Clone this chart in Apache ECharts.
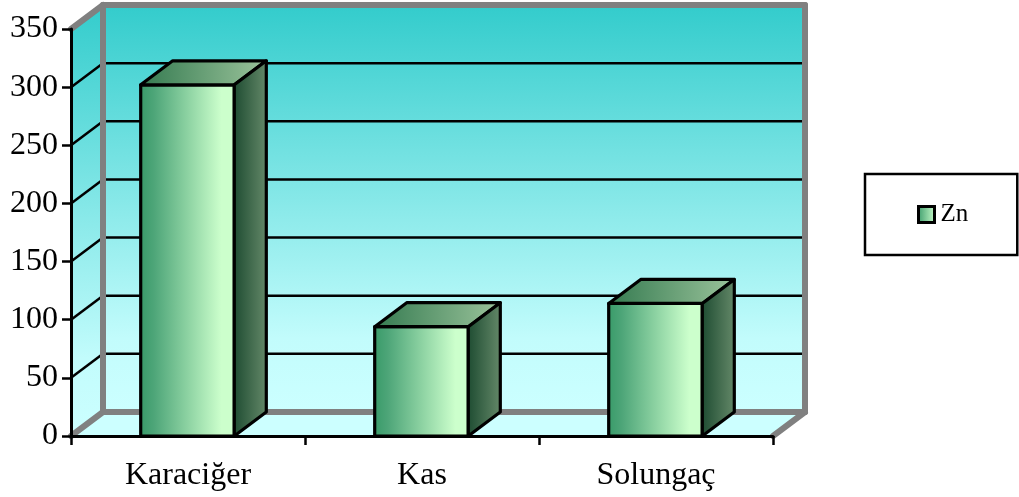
<!DOCTYPE html>
<html><head><meta charset="utf-8">
<style>html,body{margin:0;padding:0;background:#fff}#c{width:1019px;height:497px}</style>
<script src="https://cdn.jsdelivr.net/npm/echarts@6/dist/echarts.min.js"></script>
</head><body><div id="c"></div>
<script>
const categories = ['Karaciğer', 'Kas', 'Solungaç'];
const znValues = [302, 94, 114];
const yTicks = [0, 50, 100, 150, 200, 250, 300, 350];
const seriesName = 'Zn';

const DX = 32, DY = -24;
const serif = '"Liberation Serif","Times New Roman",serif';
const hGrad = (stops) => new echarts.graphic.LinearGradient(0, 0, 1, 0, stops.map((c) => ({offset: c[0], color: c[1]})));
const wallGrad = () => new echarts.graphic.LinearGradient(0, 0, 0, 1, [
  {offset: 0, color: '#33cccc'}, {offset: 0.82, color: '#c2fcfc'}, {offset: 1, color: '#ccffff'}]);
const frontGrad = hGrad([[0, '#379a68'], [0.15, '#4da578'], [0.85, '#ccffcc'], [1, '#ccffcc']]);
const topGrad = hGrad([[0, '#347a50'], [1, '#9cc49c']]);
const sideGrad = hGrad([[0, '#1c4a30'], [1, '#668a6a']]);
const BLACK = {stroke: '#000', lineWidth: 3.2, lineJoin: 'round'};

function poly(points, style, z2) {
  return {type: 'polygon', shape: {points}, style, z2: z2 || 0};
}
function line(p, q, stroke, lineWidth, z2) {
  return {type: 'line', shape: {x1: p[0], y1: p[1], x2: q[0], y2: q[1]}, style: {stroke, lineWidth, lineCap: 'round'}, z2: z2 || 0};
}

function renderWalls(params, api) {
  const cs = params.coordSys;
  const L = cs.x, R = cs.x + cs.width, T = cs.y, B = cs.y + cs.height;
  const kids = [];
  kids.push(poly([[L + DX, T + DY], [R + DX, T + DY], [R + DX, B + DY], [L + DX, B + DY]], {fill: wallGrad()}));
  kids.push(poly([[L, T], [L + DX, T + DY], [L + DX, B + DY], [L, B]], {fill: wallGrad()}));
  kids.push(poly([[L, B], [L + DX, B + DY], [R + DX, B + DY], [R, B]], {fill: '#ccffff'}));
  yTicks.slice(1, -1).forEach((v) => {
    const y = api.coord([0, v])[1];
    kids.push(line([L, y], [L + DX, y + DY], '#000', 2.5, 1));
    kids.push(line([L + DX, y + DY], [R + DX, y + DY], '#000', 2.5, 1));
  });
  const G = '#808080', W = 6;
  kids.push(line([L + DX, T + DY], [R + DX, T + DY], G, W, 2));
  kids.push(line([L + DX, T + DY], [L + DX, B + DY], G, W, 2));
  kids.push(line([L + DX, B + DY], [R + DX, B + DY], G, W, 2));
  kids.push(line([R + DX, T + DY], [R + DX, B + DY], G, W, 2));
  kids.push(line([L, T], [L + DX, T + DY], G, W, 2));
  kids.push(line([L, B], [L + DX, B + DY], G, W, 2));
  kids.push(line([R, B], [R + DX, B + DY], G, W, 2));
  return {type: 'group', children: kids};
}

function renderBar(params, api) {
  const c = api.coord([api.value(0), api.value(1)]);
  const y0 = api.coord([api.value(0), 0])[1];
  const w = api.size([1, 0])[0] * 0.4;
  const x1 = c[0] - w / 2 - 0.5, x2 = x1 + w, y1 = c[1];
  return {type: 'group', children: [
    poly([[x1, y1], [x2, y1], [x2, y0], [x1, y0]], {fill: frontGrad, ...BLACK}),
    poly([[x1, y1], [x1 + DX, y1 + DY], [x2 + DX, y1 + DY], [x2, y1]], {fill: topGrad, ...BLACK}),
    poly([[x2, y1], [x2 + DX, y1 + DY], [x2 + DX, y0 + DY], [x2, y0]], {fill: sideGrad, ...BLACK})
  ]};
}

const chart = echarts.init(document.getElementById('c'), null, {renderer: 'canvas'});
chart.setOption({
  animation: false,
  backgroundColor: '#fff',
  grid: {left: 71, right: 246, top: 29, bottom: 61},
  legend: {
    data: [{name: seriesName, icon: 'rect', itemStyle: {color: hGrad([[0, '#3a9a6a'], [1, '#ccffcc']]), borderColor: '#000', borderWidth: 3}}],
    left: 865, top: 174,
    padding: [28, 49, 28, 52],
    itemWidth: 16, itemHeight: 16, itemGap: 0,
    backgroundColor: '#fff', borderColor: '#000', borderWidth: 2.5, borderRadius: 0,
    textStyle: {fontFamily: serif, fontSize: 25, color: '#000', padding: [0, 0, 0, 1]}
  },
  xAxis: {
    type: 'category', data: categories, z: 10,
    axisLine: {lineStyle: {color: '#000', width: 3}},
    axisTick: {show: true, alignWithLabel: false, length: 9, lineStyle: {color: '#000', width: 2.5}},
    axisLabel: {fontFamily: serif, fontSize: 32, color: '#000', margin: 24},
    splitLine: {show: false}
  },
  yAxis: {
    type: 'value', min: 0, max: 350, interval: 50, z: 10,
    axisLine: {show: true, lineStyle: {color: '#000', width: 3}},
    axisTick: {show: true, length: 9, lineStyle: {color: '#000', width: 2.5}},
    axisLabel: {fontFamily: serif, fontSize: 32, color: '#000', margin: 13, padding: [2, 0, 0, 0]},
    splitLine: {show: false}
  },
  series: [
    {type: 'custom', name: 'walls', coordinateSystem: 'cartesian2d', z: 1, silent: true, renderItem: renderWalls, data: [[0, 0]]},
    {type: 'custom', name: seriesName, coordinateSystem: 'cartesian2d', z: 2, renderItem: renderBar,
     itemStyle: {color: '#9ad6a6'}, encode: {x: 0, y: 1},
     data: categories.map((c, i) => [i, znValues[i]])}
  ]
});
</script></body></html>
